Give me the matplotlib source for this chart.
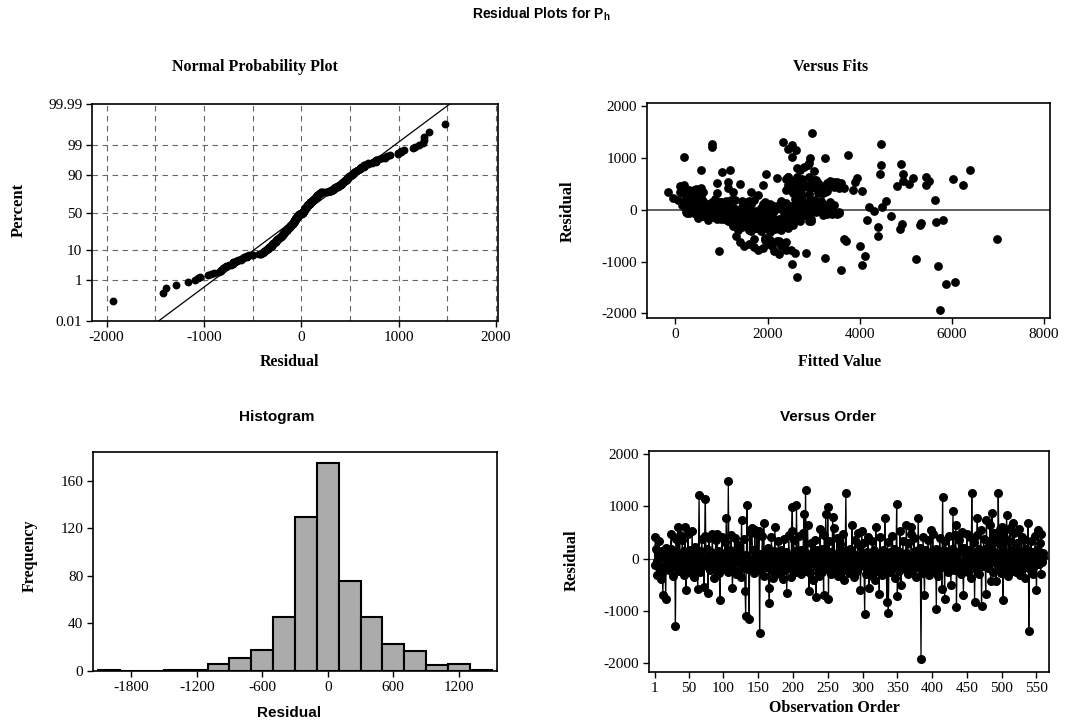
import matplotlib
matplotlib.use("Agg")
import matplotlib.pyplot as plt
import numpy as np
from statistics import NormalDist

# residuals in observation order (20 per row)
residual = [
    -120, 420, 180, -50, -320, 90, 340, -180, 40, -390, 150, -260, -700, 60, -140, 10, -780, 200, -80, 120,
    -30, -210, 70, 190, 480, -150, 20, -330, 110, -60, -1290, 380, -100, 30, 600, -240, 460, -20, -170, 80,
    360, -90, -310, 140, 600, -600, 50, -200, 470, -40, -130, 170, 10, -270, 520, -110, 60, -360, 230, -10,
    -180, 90, -580, 30, 1210, -250, 140, -70, 380, -150, 20, -540, 430, 1150, -90, 180, -30, -660, 390, 40,
    -210, 130, -50, 480, -120, 70, -380, 20, 350, -160, 480, -80, 150, -270, -800, 100, -30, 420, -190, 50,
    -60, 310, -140, 770, 10, -250, 1480, -90, 160, -20, 450, -170, -560, 80, -110, 400, 0, -300, 130, -70,
    260, -40, -230, 110, -350, 730, 30, -150, 380, -80, -620, -1090, 60, 1020, -190, 20, -1160, 550, -120, 500,
    580, -60, 170, -280, 540, 40, -200, 470, -20, -130, 520, -1425, 90, -240, 30, 430, -90, 680, -340, 10,
    -160, 120, -50, 200, -560, -850, 60, -210, 410, -30, -370, 150, -110, 610, -280, 40, -180, 90, 330, -60,
    -20, -300, 170, -140, 80, -390, 380, 10, -210, 120, -650, 50, -80, 450, -170, 20, -360, 530, 990, -120,
    350, -70, 150, -260, 1020, 40, -190, 430, -40, -130, 170, -300, 60, -90, 500, 860, -230, 1310, 110, -20,
    640, -150, -620, 90, -280, 290, -60, 30, -410, 140, -110, 360, -740, -20, 160, -200, 70, -330, 560, -80,
    180, -250, 40, -700, 450, -120, 860, 70, -180, 990, -770, 340, -40, -300, 120, 10, 800, -220, 580, -100,
    50, -160, 390, -60, -340, 130, -20, 280, -250, 80, -130, 470, -400, 20, 150, 1250, -90, -210, 110, 30,
    -270, 180, -50, 90, 640, -190, 30, -360, 360, -100, 60, -230, 490, -30, -150, 250, -600, 20, 530, -80,
    290, -140, -1060, 60, -290, 130, -50, 420, -560, 40, -190, 90, -330, 340, -20, -120, 170, -400, 610, 20,
    -230, 100, -60, -670, 410, -150, 30, -310, 160, -40, -200, 770, 70, -140, -830, 320, -1040, -90, 130, -260,
    40, -170, 440, -50, 180, -380, 90, -120, 1050, -720, 150, -30, -240, 520, -510, 60, -160, 330, -80, 20,
    -190, 110, 640, -60, 300, -290, 40, -130, 480, 610, -220, 70, -30, 400, -170, 140, -350, 30, -100, 770,
    -40, 210, -150, -1930, 80, -270, 420, -110, -700, 160, -60, -200, 120, 350, -320, 40, -90, 540, -180, 60,
    470, -130, 20, -240, 190, -960, 90, -330, 140, -50, 390, -180, 30, -590, 1170, -80, 160, -770, 330, -20,
    -150, 100, -260, 430, -40, 70, -500, 190, -110, 910, -220, 40, 460, 640, -930, 120, -170, 350, -60, 480,
    -300, 150, 510, -90, -700, 200, -30, -190, 90, 470, -250, 30, 160, -120, 410, -370, 1260, 60, -80, 310,
    -830, 110, -200, 450, 770, -60, 180, -290, 40, 540, -900, 130, -140, 380, -40, 190, -680, 740, 70, -180,
    340, -100, 640, -430, 20, 880, -260, 150, 490, -50, 420, -420, 90, -150, 1260, 290, -30, 560, -280, 600,
    120, -800, 410, -70, 550, -190, 830, 40, -340, 340, -110, 580, 60, -230, 160, 680, -40, 500, -150, 90,
    -260, 290, 30, -120, 560, -310, 150, -60, 420, -180, 60, 350, -90, -380, 190, 20, -150, 680, -1390, 40,
    -200, 330, -80, 130, -300, 50, -140, 440, -30, -610, 170, 540, -110, 60, 300, -290, 470, -60, 110, 30,
]

# fitted values, same order as residual
fitted = [
    620, 150, 380, 240, 1250, 700, -150, 900, 450, 1600, 1100, 1300, 1500, 300, 800, 2300, 1800, 2600, 550, 1900,
    350, 1150, 2500, 60, 190, 1700, 2800, 1450, 500, 2100, 2650, 400, 950, 1250, 2400, 2000, 100, 3100, 1350, 700,
    2700, 450, 1900, 1500, 2750, 3700, 200, 1650, 3300, 2450, 600, 2900, 1050, 2200, 900, 1750, 2550, 1800, -50, 850,
    1400, 2250, 2050, 650, 800, 1600, 1000, 300, 3850, 2350, 2650, 1950, 2500, 2620, 750, 3000, 1550, 1600, 250, 1850,
    1700, 400, 2950, 5450, 1200, 2800, 2300, 3200, 1650, 500, 2450, 1300, 3350, 1500, 950, 150, 2150, 1150, 2600, 1000,
    700, 2700, 1850, 1180, 350, 2250, 2970, 2550, 1450, 3050, 2850, 1050, 3650, 600, 2000, 3100, 1300, 2150, 2400, 250,
    550, 3300, 1400, 2050, 1750, 1020, 900, 2700, 2600, 1600, 2400, 5690, 3150, 2530, 1900, 450, 3600, 2500, 1250, 5080,
    2450, 1150, 2300, 1800, 3900, 2950, 700, 2650, 3400, 2100, 3600, 5870, 800, 2450, 1600, 3250, 2750, 1970, 2200, 2000,
    1550, 2750, 3550, 850, 1700, 2260, 1450, 2900, 2600, 650, 2150, 1950, 3200, 2200, 2350, 2450, 1000, 3450, 2550, 1700,
    2850, 1650, 350, 2500, 1900, 1350, 2400, 2100, 2700, 3050, 2300, 750, 3300, 4800, 1150, 2550, 1950, 3350, 3240, 2650,
    2650, 950, 2900, 2450, 190, 3400, 1750, 2550, 1200, 2850, 3150, 2250, 2600, 500, 2950, 2870, 2050, 2340, 1650, 3000,
    2450, 1850, 1400, 3250, 2300, 2750, 3550, 2200, 1650, 450, 2550, 3300, 1900, 2750, 1100, 5810, 2850, 2000, 2600, 1300,
    2750, 2400, 3050, 2100, 2950, 1500, 4470, 2650, 2250, 2920, 2400, 1250, 2500, 2550, 3350, 650, 2650, 2950, 3000, 2350,
    800, 1950, 3100, 400, 2300, 400, 1750, 250, 1400, 3200, 1450, 2550, 2050, 600, 3050, 2530, 950, 1600, 2650, 900,
    1350, 350, 700, 550, 2900, 1800, 1100, 2450, 4050, 750, 3350, 1550, 3100, 1850, 1250, 500, 2250, 300, 3500, 2050,
    450, 1150, 4040, 2400, 5300, 850, 1700, 2950, 6970, 1550, 2500, 650, 2150, 200, 1000, 1050, 2650, 2300, 3950, 2900,
    1450, 300, 1400, 2000, 2750, 900, 3200, 1850, 250, 2950, 1350, 2700, 600, 1150, 2840, 3100, 2530, 1150, 2800, 2250,
    700, 2950, 3450, 1650, 1200, 4870, 450, 2400, 3750, 1700, 3000, 600, 1200, 3300, 1320, 2500, 1600, 900, 3400, 1300,
    1400, 600, 2450, 1100, 350, 1900, 700, 1250, 2850, 5160, 1650, 3000, 900, 450, 1500, 2700, 1750, 3200, 800, 550,
    1000, 300, 1300, 5740, 2900, 1600, 2700, 1350, 4000, 500, 2750, 1800, 850, 3250, 1950, 200, 3500, 1150, 2350, 1100,
    6250, 1200, 650, 5660, 5630, 5220, 2600, 4400, 900, 1450, 2500, 1550, 400, 1950, 2450, 750, 1600, 2500, 3200, 1900,
    1300, 550, 1700, 2900, 1050, 2750, 4400, 250, 1450, 2900, 2100, 700, 2700, 2650, 3240, 1150, 1700, 150, 2450, 3550,
    1850, 1000, 3100, 600, 2300, 350, 4300, 1200, 3050, 1900, 1500, 2850, 4580, 4690, 550, 2250, 800, 4480, 1350, 2900,
    2600, 750, 4150, 2850, 6390, 1600, 200, 1450, 900, 3000, 4110, 1950, 1250, 300, 3050, 1300, 2350, 3000, 2150, 1100,
    100, 1700, 5450, 2050, 1200, 4900, 5330, 450, 3300, 950, 3550, 1850, 650, 1550, 4470, 1800, 3350, 5500, 4920, 6030,
    700, 2150, 3650, 1350, 4930, 1200, 2800, 2300, 1900, 250, 1000, 3050, 4200, 1600, 550, 4930, 2750, 1400, 850, 3100,
    1450, 400, 1100, 2650, 3350, 2300, 800, 1950, 150, 1250, 3200, 600, 2600, 2150, 1700, 500, 900, 4440, 6060, 1500,
    1250, 350, 1050, 2850, 1700, 300, 1550, 3250, 950, 2200, 600, 3450, 1350, 750, 200, 2350, 3300, 1150, 500, 2950,
]

# histogram (bin width 200)
hist_centers = [-2000, -1800, -1600, -1400, -1200, -1000, -800, -600, -400, -200,
                0, 200, 400, 600, 800, 1000, 1200, 1400]
hist_counts = [1, 0, 0, 1, 1, 6, 11, 18, 45, 129, 175, 76, 45, 23, 17, 5, 6, 1]

prob_ticks = [0.01, 1, 10, 50, 90, 99, 99.99]
prob_labels = ["0.01", "1", "10", "50", "90", "99", "99.99"]
order_ticks = [1, 50, 100, 150, 200, 250, 300, 350, 400, 450, 500, 550]

plt.rcParams["axes.unicode_minus"] = False
plt.rcParams["mathtext.fontset"] = "custom"
plt.rcParams["mathtext.bf"] = "Liberation Sans:bold"
plt.rcParams["mathtext.rm"] = "Liberation Sans:bold"

W, H = 1083, 724
SERIF = "Liberation Serif"
SANS = "Liberation Sans"
TICK_FS = 11


def add_ax(fig, left, top, right, bottom):
    return fig.add_axes([left / W, 1 - bottom / H, (right - left) / W, (bottom - top) / H])


def px_text(fig, x, y, s, **kw):
    fig.text(x / W, 1 - y / H, s, ha="center", va="center", **kw)


def style(ax):
    for sp in ax.spines.values():
        sp.set_linewidth(1.2)
        sp.set_color("black")
    ax.tick_params(direction="out", length=4, width=1, labelsize=TICK_FS, pad=3)
    for lab in ax.get_xticklabels() + ax.get_yticklabels():
        lab.set_fontfamily(SERIF)


res = np.array(residual, dtype=float)
fit = np.array(fitted, dtype=float)
n = len(res)
nd = NormalDist()

fig = plt.figure(figsize=(W / 100, H / 100), dpi=100, facecolor="white")
px_text(fig, 541, 14, r"Residual Plots for P$_\mathbf{h}$", fontsize=10,
        fontweight="bold", family=SANS)

# 1) Normal probability plot
ax1 = add_ax(fig, 92, 104, 498, 321)
srt = np.sort(res)
z = np.array([nd.inv_cdf((i - 0.3) / (n + 0.4)) for i in range(1, n + 1)])
zlo, zhi = nd.inv_cdf(0.0001), nd.inv_cdf(0.9999)
for xv in range(-2000, 2001, 500):
    ax1.axvline(xv, color="#666666", lw=0.8, ls=(0, (5, 4)), zorder=0)
for p in prob_ticks[1:-1]:
    ax1.axhline(nd.inv_cdf(p / 100), color="#666666", lw=0.8, ls=(0, (5, 4)), zorder=0)
mu, sd = res.mean(), res.std(ddof=1)
zl = np.array([zlo, zhi])
ax1.plot(mu + sd * zl, zl, color="black", lw=0.9, zorder=2)
ax1.scatter(srt, z, s=32, color="black", zorder=3, linewidths=0)
ax1.set_xlim(-2150, 2020)
ax1.set_ylim(zlo, zhi)
ax1.set_xticks([-2000, -1000, 0, 1000, 2000])
ax1.set_yticks([nd.inv_cdf(p / 100) for p in prob_ticks])
ax1.set_yticklabels(prob_labels)
style(ax1)
px_text(fig, 255, 67, "Normal Probability Plot", fontsize=11.5, fontweight="bold", family=SERIF)
px_text(fig, 289, 362, "Residual", fontsize=11.5, fontweight="bold", family=SERIF)
px_text(fig, 19, 210, "Percent", fontsize=12, fontweight="bold", family=SERIF, rotation=90)

# 2) Versus fits
ax2 = add_ax(fig, 647, 103, 1050, 318)
ax2.axhline(0, color="#444444", lw=1.2, zorder=1)
ax2.scatter(fit, res, s=40, color="black", zorder=3, linewidths=0)
ax2.set_xlim(-615, 8130)
ax2.set_ylim(-2090, 2060)
ax2.set_xticks([0, 2000, 4000, 6000, 8000])
ax2.set_yticks([-2000, -1000, 0, 1000, 2000])
style(ax2)
px_text(fig, 831, 67, "Versus Fits", fontsize=11.5, fontweight="bold", family=SERIF)
px_text(fig, 840, 362, "Fitted Value", fontsize=11.5, fontweight="bold", family=SERIF)
px_text(fig, 568, 211, "Residual", fontsize=12, fontweight="bold", family=SERIF, rotation=90)

# 3) Histogram
ax3 = add_ax(fig, 93, 452, 497, 671)
ax3.bar(hist_centers, hist_counts, width=200, color="#ababab", edgecolor="black", linewidth=1.5)
ax3.set_xlim(-2150, 1550)
ax3.set_ylim(0, 184)
ax3.set_xticks([-1800, -1200, -600, 0, 600, 1200])
ax3.set_yticks([0, 40, 80, 120, 160])
style(ax3)
px_text(fig, 277, 417, "Histogram", fontsize=11, fontweight="bold", family=SANS)
px_text(fig, 289, 713, "Residual", fontsize=11, fontweight="bold", family=SANS)
px_text(fig, 30, 556, "Frequency", fontsize=11.5, fontweight="bold", family=SERIF, rotation=90)

# 4) Versus order
ax4 = add_ax(fig, 649, 451, 1049, 672)
obs = np.arange(1, n + 1)
ax4.axhline(0, color="#666666", lw=0.8, zorder=1)
ax4.plot(obs, res, color="black", lw=0.9, marker="o", ms=5.5, mec="black", mfc="black", zorder=3)
ax4.set_xlim(-7, 568)
ax4.set_ylim(-2170, 2060)
ax4.set_xticks(order_ticks)
ax4.set_yticks([-2000, -1000, 0, 1000, 2000])
style(ax4)
px_text(fig, 828, 417, "Versus Order", fontsize=11, fontweight="bold", family=SANS)
px_text(fig, 834, 708, "Observation Order", fontsize=11.5, fontweight="bold", family=SERIF)
px_text(fig, 572, 560, "Residual", fontsize=12, fontweight="bold", family=SERIF, rotation=90)

fig.savefig("out.png", dpi=100, facecolor="white")
